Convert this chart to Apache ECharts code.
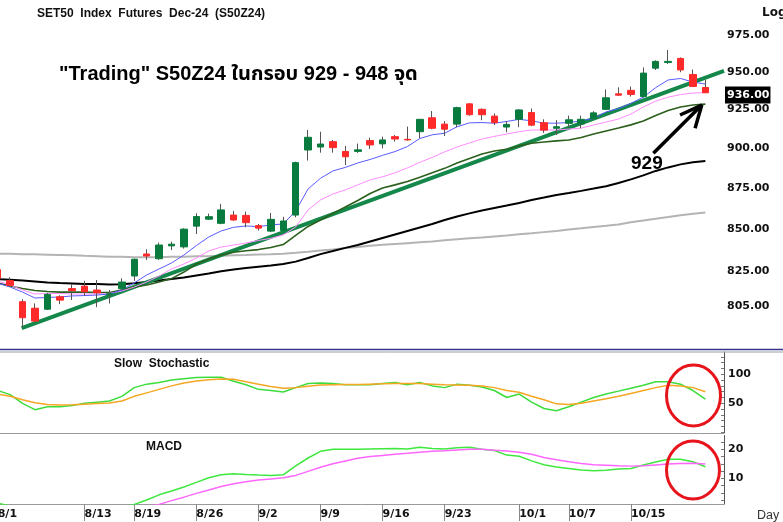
<!DOCTYPE html>
<html>
<head>
<meta charset="utf-8">
<script src="https://cdn.jsdelivr.net/npm/echarts@6/dist/echarts.min.js"></script>
<style>
html,body{margin:0;padding:0;background:#fff;}
#main{width:783px;height:522px;}
</style>
</head>
<body>
<div id="main"></div>
<script>
// trading days shown on the chart
var dates = ['8/1','8/2','8/5','8/6','8/7','8/8','8/9','8/13','8/14','8/15','8/16','8/19','8/20','8/21','8/22','8/23',
  '8/26','8/27','8/28','8/29','8/30','9/2','9/3','9/4','9/5','9/6','9/9','9/10','9/11','9/12','9/13',
  '9/16','9/17','9/18','9/19','9/20','9/23','9/24','9/25','9/26','9/27','9/30',
  '10/1','10/2','10/3','10/4','10/7','10/8','10/9','10/10','10/11','10/15','10/16','10/17','10/18','10/21','10/22','10/24'];
var dateTicks = ['8/1','8/13','8/19','8/26','9/2','9/9','9/16','9/23','10/1','10/7','10/15'];

// candles
var opens  = [826,819.6,807.5,803.8,803.2,810.3,815.0,816.4,814.2,811.5,815.0,822.3,835.2,832.4,840.0,839.4,851.8,856.0,853.5,858.5,858.3,852.1,848.8,849.2,858.5,898.9,900.8,904.2,898.0,898.0,904.9,902.8,907.4,905.7,910.6,919.6,915.5,915.5,928.7,925.1,920.7,913.6,918.6,923.0,916.4,912.8,916.0,915.6,919.2,925.1,935.3,937.6,933.5,952.4,956.2,959.0,948.2,939.5];
var highs  = [828,821.6,808.9,806.5,812.5,811.2,817.5,819.5,820.0,814.2,821.0,832.5,838.0,841.9,842.5,850.5,859.6,859.4,865.3,861.0,860.6,853.1,859.8,857.4,891.5,911.7,910.6,905.3,901.5,903.0,906.8,907.4,908.5,913.9,918.6,924.0,917.5,926.8,929.1,925.7,922.4,917.5,925.1,925.7,918.6,918.1,921.0,921.0,923.9,938.2,939.6,940.1,952.9,957.7,964.7,959.7,951.5,944.5];
var lows   = [819,816.1,793.0,795.9,802.8,806.1,808.5,810.8,804.4,806.5,814.2,819.5,831.7,831.7,837.5,838.4,847.1,855.5,853.0,855.0,851.1,849.1,848.2,848.8,857.1,892.2,897.2,897.2,889.4,897.0,899.5,899.9,904.2,904.9,906.4,912.2,907.8,913.5,921.0,918.0,914.9,910.2,913.5,914.2,909.8,908.5,913.3,912.8,918.6,924.7,933.8,933.5,932.9,951.2,955.2,949.7,939.8,936.0];
var closes = [821,816.9,798.4,796.5,811.7,808.4,813.8,813.2,812.6,812.0,818.8,832.1,834.0,840.5,841.0,850.0,857.6,857.5,861.6,855.5,853.9,850.6,855.9,854.9,890.9,907.0,902.7,900.4,894.6,899.0,902.1,905.3,905.9,905.3,918.6,912.8,912.2,926.2,921.6,921.6,916.4,915.3,924.7,914.8,911.6,913.8,918.3,918.6,922.8,932.7,934.4,934.9,949.1,957.0,957.0,951.2,940.2,936.0];

// moving averages
var maBlue  = [818.2,815.9,813.0,809.6,809.9,810.2,810.8,811.0,811.3,811.9,814.2,818.3,822.9,826.4,829.9,834.6,840.2,845.3,848.9,851.1,851.9,851.5,852.5,853.1,861.0,874.5,881.1,885.7,887.9,890.7,892.9,895.5,897.9,901.1,906.2,908.6,909.6,913.8,916.3,916.5,916.1,917.2,918.6,917.6,916.1,916.1,916.5,917.6,919.2,923.4,925.6,929.0,933.1,939.4,944.5,945.5,943.1,941.8];
var maPink  = [819.4,817.1,814.2,811.9,812.2,812.2,811.9,811.9,811.9,812.2,813.6,815.9,818.8,822.3,826.4,829.3,832.8,837.0,839.3,840.5,841.7,843.2,844.5,846.5,851.3,861.6,867.7,871.4,873.9,877.0,880.1,882.0,884.5,887.6,891.1,894.2,897.7,900.8,903.4,905.9,907.6,909.1,910.6,911.7,911.7,911.7,912.3,912.9,914.9,916.8,918.8,922.0,926.6,930.5,933.1,934.8,935.8,936.1];
var maGreen = [818.2,816.5,815.1,813.9,813.3,813.0,813.0,813.0,812.8,812.8,814.2,815.9,817.1,818.8,820.8,824.6,829.3,832.2,834.6,836.2,837.1,837.8,839.0,840.8,846.2,851.6,855.5,859.5,863.4,867.4,871.7,875.1,877.0,879.1,881.7,884.5,887.3,890.7,893.5,896.4,898.3,899.4,901.5,903.2,904.0,904.7,905.3,906.9,909.1,911.1,913.0,915.0,917.5,921.1,924.3,926.6,927.9,928.5];
var maBlack = [820.5,820.1,819.7,819.1,818.5,818.2,818.0,817.7,817.6,817.4,817.5,818.1,818.8,819.7,820.5,821.4,822.6,823.7,825.1,826.1,827.0,827.7,828.4,829.3,830.7,832.8,835.1,837.0,838.8,840.5,842.6,844.7,846.8,848.9,851.0,853.1,855.5,857.6,859.5,861.3,862.8,864.3,865.9,867.7,869.2,870.8,872.0,873.3,874.7,876.2,878.2,880.4,882.9,885.7,887.9,889.8,891.1,892.0];
var maGray  = [835.4,835.3,835.1,835.0,834.8,834.6,834.4,834.1,833.9,833.6,833.5,833.3,833.3,833.3,833.5,833.6,833.8,833.9,834.1,834.4,834.6,834.9,835.1,835.4,835.9,836.5,837.2,837.9,838.7,839.4,840.1,840.6,841.1,841.6,842.1,842.6,843.3,843.9,844.5,845.0,845.6,846.2,846.9,847.5,848.2,848.9,849.8,850.5,851.3,852.0,852.8,854.2,855.2,856.3,857.3,858.4,859.3,860.1];

// slow stochastic
var stochK = [72,65,50,39,44,44,46,50,52,54,62,77,83,86,90,92.5,94.5,95,94.8,88,82,74,72,69.5,77,84,85,84,82,82,82,84,86,82,86,80,77,83,81,78,72,60,66,52,41,37,44,52,60,66,71,76,81,87,87,83,72,57];
var stochD = [66,62,56,51,48,47,47.5,48.5,49.5,50.5,54,62,68,74,80,85,88.5,90.5,92,91.5,87,83,79,76,77,79.5,81.5,82,82.5,82.5,83,83.5,84,84,84,83,82,81.5,81,80,77,72,69,62,56,49,48,50,54,58,62,67,72,77,81,80,77,70];

// MACD
var macdLine   = [1.4,0.5,-1,-2.5,-3,-3,-2.5,-2,-1.5,-1,0,1,2.5,4.3,5.6,7,8.6,10.2,11.2,11.6,11.3,11.1,11.0,11.2,14.3,17,19.3,20,20,20,20.1,20.2,20.3,20.1,20.7,20.3,20.1,20.5,20.7,20,19.6,18,17.6,16,14.7,13.9,13.4,12.9,12.6,12.8,13.2,13.4,14.6,15.6,16.6,16.6,15.7,14];
var macdSignal = [0.3,0,-0.4,-1,-1.4,-1.8,-2,-2,-2,-1.8,-1.2,-0.5,0.3,1.0,2.3,3.5,4.8,6.0,7.2,8.1,8.8,9.4,9.8,10.2,11.0,12.4,13.8,15.0,16.0,16.9,17.5,17.9,18.3,18.6,19.0,19.3,19.5,19.8,20.0,20.0,19.7,19.4,19.0,18.3,17.2,16.4,15.7,15.1,14.7,14.5,14.3,14.2,14.3,14.6,14.9,15.1,15.2,14.9];

// axis labels
var priceTicks = [975,950,925,900,875,850,825,805];
var stochTicks = [50,100];
var macdTicks = [10,20];

// drawn annotations (day index, price)
var trendLine = [[1.93,792.5],[58.5,950.6]];
var arrowShaft = [[52.81,896.8],[56.71,927.9]];
var arrowHead = [[54.96,921.4],[56.71,927.9],[56.17,912.8]];

var L = function(v){ return Math.log(v); };
var cats = dates.concat(['']);

var minorPrice = [];
for (var p = 785; p <= 995; p += 5) minorPrice.push(L(p));
var minorStoch = [];
for (var s = 0; s <= 130; s += 10) minorStoch.push(s);
var minorMacd = [];
for (var m = 2.5; m <= 24; m += 2.5) minorMacd.push(m);

var wickData = [], bodyData = [];
for (var i = 0; i < opens.length; i++) {
  wickData.push([L(opens[i]), L(closes[i]), L(lows[i]), L(highs[i])]);
  bodyData.push([L(opens[i]), L(closes[i]), L(Math.min(opens[i], closes[i])), L(Math.max(opens[i], closes[i]))]);
}
var toLog = function(arr){ return arr.map(L); };
var ptsLog = function(arr){ return arr.map(function(d){ return [d[0], L(d[1])]; }); };

var axFont = { fontFamily: 'DejaVu Sans', fontWeight: 'bold', fontSize: 11, color: '#111' };

var chart = echarts.init(document.getElementById('main'), null, { renderer: 'canvas' });

function lineS(name, data, color, width, xi, yi, z) {
  return { name: name, type: 'line', data: data, xAxisIndex: xi, yAxisIndex: yi, symbol: 'none',
    silent: true, animation: false, z: z || 2, lineStyle: { color: color, width: width } };
}

var option = {
  backgroundColor: '#fff',
  animation: false,
  grid: [
    { left: -8.5, right: 59, top: 6, bottom: 174, outerBoundsMode: 'none' },
    { left: -8.5, right: 59, top: 352, bottom: 89, outerBoundsMode: 'none' },
    { left: -8.5, right: 59, top: 435.5, bottom: 18, outerBoundsMode: 'none' }
  ],
  xAxis: [
    { gridIndex: 0, type: 'category', data: cats, boundaryGap: true, show: false },
    { gridIndex: 0, type: 'value', min: -0.5, max: 58.5, show: false },
    { gridIndex: 1, type: 'category', data: cats, boundaryGap: true, show: false },
    { gridIndex: 2, type: 'category', data: cats, boundaryGap: true,
      axisLine: { show: true, lineStyle: { color: '#9a9a9a', width: 1 } },
      axisTick: { show: true, alignWithLabel: true, length: 17, lineStyle: { color: '#888' },
        interval: function(idx, val){ return dateTicks.indexOf(val) >= 0; } },
      axisLabel: { show: true, align: 'left', margin: 5, fontFamily: 'DejaVu Sans', fontWeight: 'bold', fontSize: 11, color: '#111',
        interval: function(idx, val){ return dateTicks.indexOf(val) >= 0; } },
      splitLine: { show: false } }
  ],
  yAxis: [
    { gridIndex: 0, type: 'value', position: 'right', min: L(781.5), max: L(995.2),
      splitLine: { show: false },
      axisLine: { show: true, lineStyle: { color: '#555' } },
      axisTick: { show: true, inside: true, length: 3, customValues: minorPrice, lineStyle: { color: '#777' } },
      axisLabel: Object.assign({ margin: 3, customValues: priceTicks.map(L),
        formatter: function(v){ return Math.exp(v).toFixed(2); } }, axFont) },
    { gridIndex: 1, type: 'value', position: 'right', min: -1.2, max: 138.4,
      splitLine: { show: false },
      axisLine: { show: true, lineStyle: { color: '#555' } },
      axisTick: { show: true, inside: true, length: 3, customValues: minorStoch, lineStyle: { color: '#777' } },
      axisLabel: Object.assign({ margin: 4, customValues: stochTicks }, axFont) },
    { gridIndex: 2, type: 'value', position: 'right', min: 1.14, max: 24.76,
      splitLine: { show: false },
      axisLine: { show: true, lineStyle: { color: '#555' } },
      axisTick: { show: true, inside: true, length: 3, customValues: minorMacd, lineStyle: { color: '#777' } },
      axisLabel: Object.assign({ margin: 4, customValues: macdTicks }, axFont) }
  ],
  series: [
    lineS('MA200', toLog(maGray), '#b4b4b4', 2, 0, 0, 2),
    lineS('MA75', toLog(maBlack), '#000', 2, 0, 0, 2),
    lineS('Trend', ptsLog(trendLine), '#14874b', 4, 1, 0, 3),
    lineS('MA25', toLog(maGreen), '#2b5f1c', 1.6, 0, 0, 4),
    lineS('MA10', toLog(maPink), '#ff8cff', 1, 0, 0, 4),
    lineS('MA5', toLog(maBlue), '#5a5aff', 1, 0, 0, 4),
    { name: 'wick', type: 'candlestick', data: wickData, xAxisIndex: 0, yAxisIndex: 0, barWidth: 1, z: 5, silent: true,
      itemStyle: { color: 'rgba(0,0,0,0)', color0: 'rgba(0,0,0,0)', borderColor: '#555', borderColor0: '#555', borderWidth: 1 } },
    { name: 'body', type: 'candlestick', data: bodyData, xAxisIndex: 0, yAxisIndex: 0, barWidth: 7, z: 6, silent: true,
      itemStyle: { color: '#0a7b3e', color0: '#ff2a2a', borderColor: '#0a7b3e', borderColor0: '#ff2a2a', borderWidth: 1 },
      markLine: { silent: true, symbol: 'none', animation: false,
        lineStyle: { color: 'rgba(0,0,0,0)', width: 1 },
        data: [{ yAxis: L(closes[closes.length - 1]) }],
        label: { show: true, position: 'end', distance: 1, formatter: closes[closes.length - 1].toFixed(2),
          color: '#fff', backgroundColor: '#000', padding: [3, 1, 3, 2],
          fontFamily: 'DejaVu Sans', fontWeight: 'bold', fontSize: 11 } } },
    lineS('arrow', ptsLog(arrowShaft), '#000', 3.5, 1, 0, 7),
    lineS('arrowHead', ptsLog(arrowHead), '#000', 3.5, 1, 0, 7),
    lineS('%K', stochK, '#3ddc3d', 1.5, 2, 1, 2),
    lineS('%D', stochD, '#f5a623', 1.5, 2, 1, 2),
    lineS('MACD', macdLine, '#3ee83e', 1.5, 3, 2, 2),
    lineS('Signal', macdSignal, '#ff66ff', 1.5, 3, 2, 2)
  ],
  graphic: [
    { type: 'line', z: 50, shape: { x1: 0, y1: 349.5, x2: 783, y2: 349.5 }, style: { stroke: '#34348a', lineWidth: 1.5 } },
    { type: 'line', z: 50, shape: { x1: 0, y1: 352, x2: 783, y2: 352 }, style: { stroke: '#9a9aa8', lineWidth: 1 } },
    { type: 'line', z: 50, shape: { x1: 0, y1: 433.5, x2: 724, y2: 433.5 }, style: { stroke: '#9a9a9a', lineWidth: 1 } },
    { type: 'text', z: 60, style: { x: 37, y: 14, text: 'SET50  Index  Futures  Dec-24  (S50Z24)', font: 'bold 12px Arial, "Liberation Sans", sans-serif', fill: '#111', verticalAlign: 'middle', textVerticalAlign: 'middle' } },
    { type: 'text', z: 60, style: { x: 59, y: 74, text: '"Trading" S50Z24 ในกรอบ 929 - 948 จุด', font: 'bold 20px Arial, "Liberation Sans", "Noto Sans Thai", "Noto Sans", sans-serif', fill: '#000', verticalAlign: 'middle', textVerticalAlign: 'middle' } },
    { type: 'text', z: 60, style: { x: 762, y: 13, text: 'Log', font: 'bold 12px "DejaVu Sans", sans-serif', fill: '#111', verticalAlign: 'middle', textVerticalAlign: 'middle' } },
    { type: 'text', z: 60, style: { x: 631, y: 164, text: '929', font: 'bold 19px Arial, "Liberation Sans", sans-serif', fill: '#000', verticalAlign: 'middle', textVerticalAlign: 'middle' } },
    { type: 'text', z: 60, style: { x: 114, y: 364, text: 'Slow  Stochastic', font: 'bold 12px Arial, "Liberation Sans", sans-serif', fill: '#111', verticalAlign: 'middle', textVerticalAlign: 'middle' } },
    { type: 'text', z: 60, style: { x: 146, y: 447, text: 'MACD', font: 'bold 12px Arial, "Liberation Sans", sans-serif', fill: '#111', verticalAlign: 'middle', textVerticalAlign: 'middle' } },
    { type: 'text', z: 60, style: { x: 757, y: 516, text: 'Day', font: '12.5px Arial, "Liberation Sans", sans-serif', fill: '#333', verticalAlign: 'middle', textVerticalAlign: 'middle' } },
    { type: 'ellipse', z: 60, shape: { cx: 693.5, cy: 395.5, rx: 27, ry: 30.5 }, style: { fill: 'none', stroke: '#e8141c', lineWidth: 3 } },
    { type: 'ellipse', z: 60, shape: { cx: 693, cy: 470, rx: 26.5, ry: 29 }, style: { fill: 'none', stroke: '#e8141c', lineWidth: 3 } }
  ]
};
chart.setOption(option);
</script>
</body>
</html>
